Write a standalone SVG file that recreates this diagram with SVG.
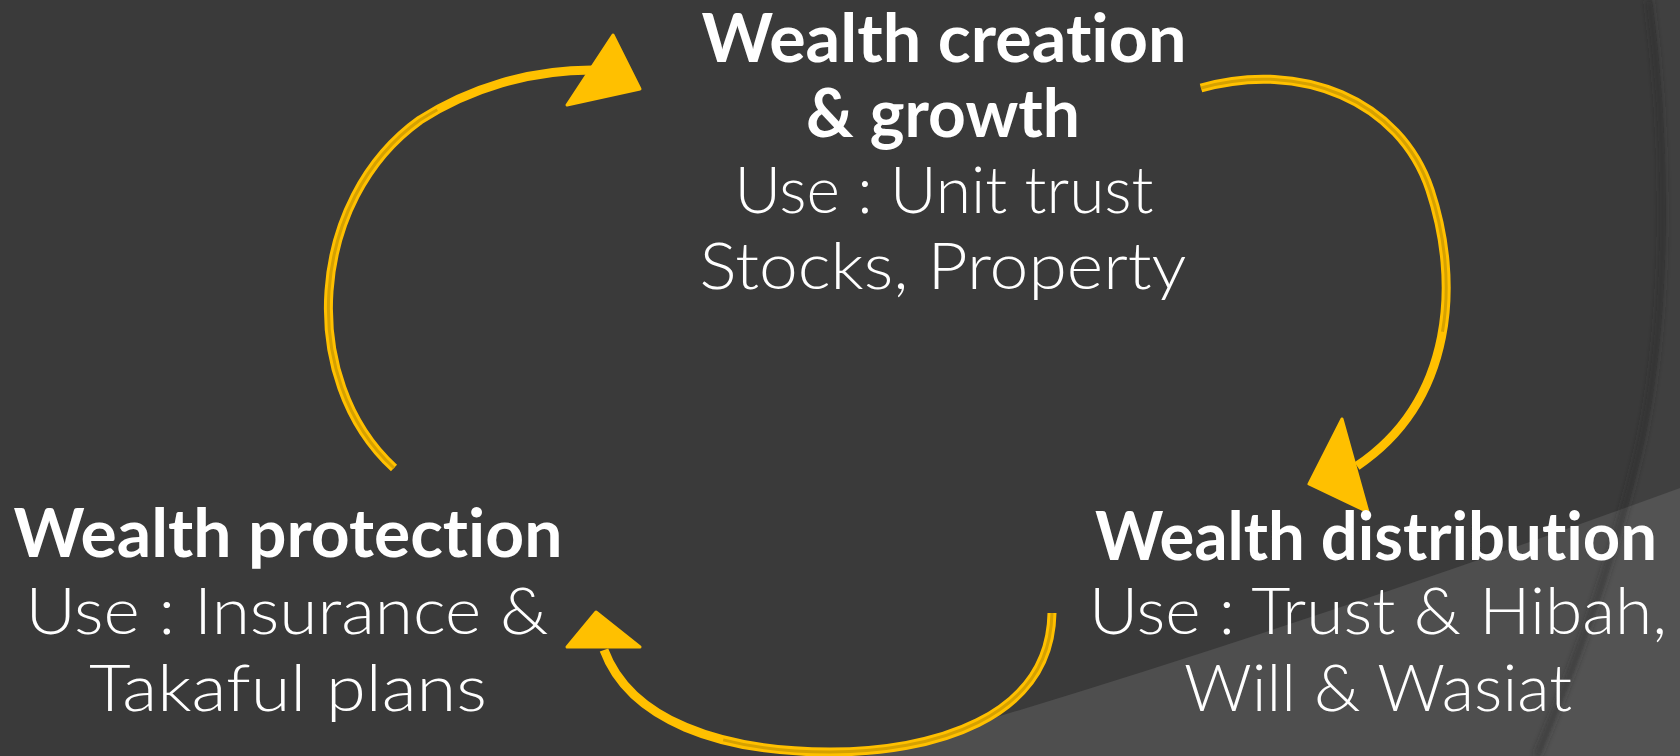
<svg xmlns="http://www.w3.org/2000/svg" width="1680" height="756" viewBox="0 0 1680 756">
  <style>
    .t { font-family: "Lato", "Open Sans", "Liberation Sans", sans-serif; fill: #ffffff; text-anchor: middle; font-size: 66px; font-variant-ligatures: none; font-feature-settings: "liga" 0, "clig" 0; }
    .b { font-weight: 700; }
    .r { font-weight: 300; }
    .arc { fill: none; stroke: #FFC000; stroke-width: 9; stroke-linecap: butt; }
    .inner { fill: none; stroke: #D6A100; stroke-width: 3; stroke-linecap: butt; stroke-dasharray: 72 100; }
    .head { fill: #FFC000; stroke: #FFC000; stroke-width: 3; stroke-linejoin: round; }
  </style>
  <defs>
    <filter id="blur" x="-0.2" y="-0.2" width="1.4" height="1.4">
      <feGaussianBlur stdDeviation="3"/>
    </filter>
  </defs>

  <g id="background">
    <rect x="0" y="0" width="1680" height="756" fill="#3a3a3a"/>
    <path d="M 865 756 Q 1250 645 1680 488 L 1680 756 Z" fill="#4e4e4e"/>
    <path d="M 1652 0 C 1672 150, 1672 330, 1640 460 C 1610 580, 1580 660, 1540 756" fill="none" stroke="#2c2c2c" stroke-width="6" stroke-opacity="0.5" filter="url(#blur)" transform="translate(-3,0)"/>
    <path d="M 1652 0 C 1672 150, 1672 330, 1640 460 C 1610 580, 1580 660, 1540 756 L 1680 756 L 1680 0 Z" fill="#ffffff" fill-opacity="0.03"/>
  </g>

  <g id="connectors">
    <g id="arrow-protection-to-creation">
      <path class="arc" pathLength="100" d="M 394 468 C 298 380, 308 200, 420 120 C 470 88, 530 70, 592 70"/>
      <path class="inner" pathLength="100" d="M 394 468 C 298 380, 308 200, 420 120 C 470 88, 530 70, 592 70"/>
      <polygon class="head" points="613,35 640,89 567,105"/>
    </g>
    <g id="arrow-creation-to-distribution">
      <path class="arc" pathLength="100" d="M 1201 88 C 1300 60, 1400 100, 1430 190 C 1460 280, 1455 400, 1357 466"/>
      <path class="inner" pathLength="100" d="M 1201 88 C 1300 60, 1400 100, 1430 190 C 1460 280, 1455 400, 1357 466"/>
      <polygon class="head" points="1342,419 1309,484 1368,512"/>
    </g>
    <g id="arrow-distribution-to-protection">
      <path class="arc" pathLength="100" d="M 1052 613 C 1050 720, 930 752, 830 752 C 720 752, 630 720, 604 650"/>
      <path class="inner" pathLength="100" d="M 1052 613 C 1050 720, 930 752, 830 752 C 720 752, 630 720, 604 650"/>
      <polygon class="head" points="596,612 567,647 640,647"/>
    </g>
  </g>

  <g id="node-creation">
    <text class="t b" x="944" y="62" textLength="485" lengthAdjust="spacingAndGlyphs">Wealth creation</text>
    <text class="t b" x="943" y="137" textLength="274" lengthAdjust="spacingAndGlyphs">&amp; growth</text>
    <text class="t r" x="944" y="213" textLength="419" lengthAdjust="spacingAndGlyphs">Use : Unit trust</text>
    <text class="t r" x="943" y="289" textLength="487" lengthAdjust="spacingAndGlyphs">Stocks, Property</text>
  </g>

  <g id="node-protection">
    <text class="t b" x="288" y="557" textLength="549" lengthAdjust="spacingAndGlyphs">Wealth protection</text>
    <text class="t r" x="287" y="634" textLength="523" lengthAdjust="spacingAndGlyphs">Use : Insurance &amp;</text>
    <text class="t r" x="288" y="711" textLength="398" lengthAdjust="spacingAndGlyphs">Takaful plans</text>
  </g>

  <g id="node-distribution">
    <text class="t b" x="1376" y="560" textLength="562" lengthAdjust="spacingAndGlyphs">Wealth distribution</text>
    <text class="t r" x="1378" y="634" textLength="578" lengthAdjust="spacingAndGlyphs">Use : Trust &amp; Hibah,</text>
    <text class="t r" x="1378" y="711" textLength="388" lengthAdjust="spacingAndGlyphs">Will &amp; Wasiat</text>
  </g>
</svg>
